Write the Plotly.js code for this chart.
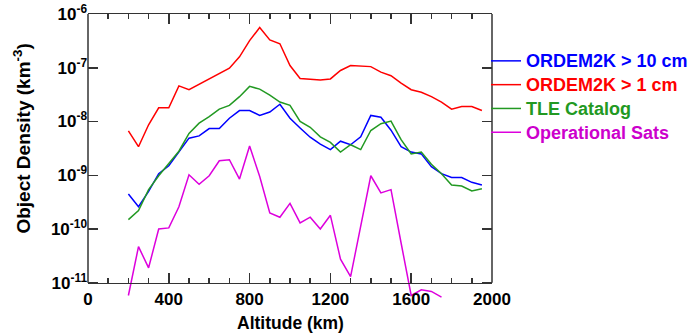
<!DOCTYPE html>
<html>
<head>
<meta charset="utf-8">
<script src="https://cdn.plot.ly/plotly-3.0.1.min.js"></script>
<style>html,body{margin:0;padding:0;background:#fff;}#chart{width:693px;height:333px;}</style>
</head>
<body>
<div id="chart"></div>
<script>
// Altitude (km)
const altitude = [200,250,300,350,400,450,500,550,600,650,700,750,800,850,900,950,1000,1050,1100,1150,1200,1250,1300,1350,1400,1450,1500,1550,1600,1650,1700,1750,1800,1850,1900,1950];
const altitudeOps = [200,250,300,350,400,450,500,550,600,650,700,750,800,850,900,950,1000,1050,1100,1150,1200,1250,1300,1350,1400,1450,1500,1550,1600,1650,1700,1750];
// Object density (km^-3)
const ordem10cm = [4.5e-10,2.6e-10,5.0e-10,1.07e-9,1.5e-9,2.7e-9,4.9e-9,5.4e-9,7.4e-9,7.4e-9,1.15e-8,1.6e-8,1.6e-8,1.3e-8,1.5e-8,2.1e-8,1.15e-8,7.6e-9,5.1e-9,3.8e-9,3.0e-9,4.3e-9,3.7e-9,5.2e-9,1.3e-8,1.2e-8,6.9e-9,3.4e-9,2.7e-9,2.5e-9,1.45e-9,1.07e-9,9.1e-10,9.1e-10,7.4e-10,6.6e-10];
const ordem1cm = [6.7e-9,3.4e-9,8.7e-9,1.8e-8,1.8e-8,4.6e-8,3.9e-8,4.9e-8,6.2e-8,7.9e-8,9.8e-8,1.6e-7,3.2e-7,5.6e-7,3.3e-7,2.8e-7,1.1e-7,6.3e-8,6.0e-8,5.9e-8,6.2e-8,8.9e-8,1.1e-7,1.07e-7,1.05e-7,8.3e-8,7.1e-8,5.2e-8,3.9e-8,3.5e-8,2.9e-8,2.3e-8,1.7e-8,1.9e-8,1.9e-8,1.6e-8];
const tleCatalog = [1.5e-10,2.2e-10,5.4e-10,9.8e-10,1.66e-9,2.8e-9,6.0e-9,9.3e-9,1.23e-8,1.7e-8,2.0e-8,2.9e-8,4.5e-8,4.0e-8,3.1e-8,2.3e-8,2.0e-8,1.0e-8,7.8e-9,5.2e-9,4.1e-9,2.7e-9,3.7e-9,3.0e-9,6.8e-9,9.1e-9,1.02e-8,4.6e-9,2.5e-9,2.7e-9,1.6e-9,1.07e-9,6.6e-10,6.3e-10,5.1e-10,5.6e-10];
const operationalSats = [5.8e-12,4.7e-11,1.9e-11,1.0e-10,1.05e-10,2.6e-10,1.02e-9,6.8e-10,9.8e-10,1.86e-9,1.95e-9,8.5e-10,3.5e-9,9.5e-10,2.0e-10,1.66e-10,3.0e-10,1.3e-10,1.66e-10,1.0e-10,1.8e-10,2.75e-11,1.3e-11,1.15e-10,9.8e-10,4.7e-10,5.4e-10,5.5e-11,5.8e-12,7.4e-12,6.9e-12,5.4e-12];

const seriesNames = ["ORDEM2K &gt; 10 cm","ORDEM2K &gt; 1 cm","TLE Catalog","Operational Sats"];
const seriesColors = ["#0000ff","#ff0000","#229922","#dd00dd"];
const textColors = ["#0000ff","#ff0000","#229922","#cc00cc"];

const yTickVals = [1e-11,1e-10,1e-9,1e-8,1e-7,1e-6];
const yTickText = ["10<sup>-11</sup>","10<sup>-10</sup>","10<sup>-9</sup>","10<sup>-8</sup>","10<sup>-7</sup>","10<sup>-6</sup>"];
const xTickVals = [0,400,800,1200,1600,2000];

const xs = [altitude, altitude, altitude, altitudeOps];
const ys = [ordem10cm, ordem1cm, tleCatalog, operationalSats];
const traces = ys.map((y,i)=>({
  x: xs[i], y: y, type:'scatter', mode:'lines',
  name: '<span style="color:'+textColors[i]+';font-size:18px">'+seriesNames[i]+'</span>',
  line:{color:seriesColors[i], width:1.5}
}));
// invisible trace to host top axis
traces.push({x:[0,2000], y:[1e-6,1e-6], xaxis:'x2', yaxis:'y', mode:'lines', line:{width:0}, showlegend:false, hoverinfo:'skip', opacity:0});

const yMin = -11.32, yMax = -6;
const pos = (-11 - yMin)/(yMax - yMin);
const FONT = 'Liberation Sans, Arial, sans-serif';
const frame = '#333333';

const layout = {
  width:693, height:333,
  margin:{l:88, r:201, t:14, b:33, autoexpand:false},
  paper_bgcolor:'#fff', plot_bgcolor:'#fff',
  font:{family:FONT, color:'#000'},
  showlegend:true,
  legend:{xref:'container', yref:'container', x:0.7013, xanchor:'left', y:0.868, yanchor:'top', font:{family:FONT, size:16, weight:'bold'}, tracegroupgap:0, bgcolor:'rgba(0,0,0,0)'},
  xaxis:{
    range:[0,2000], anchor:'free', position:pos, automargin:false,
    tickvals:xTickVals, ticks:'inside', ticklen:10, tickwidth:1.5, tickcolor:frame,
    minor:{dtick:100, ticks:'inside', ticklen:5, tickwidth:1.5, tickcolor:frame},
    showline:true, linecolor:frame, linewidth:1.5, showgrid:false, zeroline:false,
    tickfont:{family:FONT, size:17, weight:'bold'}
  },
  xaxis2:{
    range:[0,2000], overlaying:'x', side:'top', anchor:'y',
    tickvals:xTickVals, ticks:'inside', ticklen:10, tickwidth:1.5, tickcolor:frame,
    minor:{dtick:100, ticks:'inside', ticklen:5, tickwidth:1.5, tickcolor:frame},
    showline:true, linecolor:frame, linewidth:1.5, showgrid:false, zeroline:false, showticklabels:false
  },
  yaxis:{
    type:'log', range:[yMin,yMax], anchor:'x', automargin:false,
    tickvals:yTickVals, ticktext:yTickText, ticks:'inside', ticklen:10, tickwidth:1.5, tickcolor:frame,
    mirror:'ticks', showline:false, showgrid:false, zeroline:false,
    tickfont:{family:FONT, size:17, weight:'bold'}
  },
  shapes:[
    {type:'line', xref:'paper', yref:'paper', x0:0, x1:0, y0:pos, y1:1, line:{color:frame, width:1.5}},
    {type:'line', xref:'paper', yref:'paper', x0:1, x1:1, y0:pos, y1:1, line:{color:frame, width:1.5}}
  ],
  annotations:[
    {text:'Altitude (km)', xref:'paper', yref:'paper', x:0.5, y:-0.08, xanchor:'center', yanchor:'middle', showarrow:false, font:{family:FONT, size:17.5, weight:'bold'}},
    {text:'Object Density (km<sup>-3</sup>)', xref:'paper', yref:'paper', x:-0.163, y:0.565, xanchor:'center', yanchor:'middle', textangle:-90, showarrow:false, font:{family:FONT, size:19, weight:'bold'}}
  ]
};
Plotly.newPlot('chart', traces, layout, {displayModeBar:false, staticPlot:true});
</script>
</body>
</html>
